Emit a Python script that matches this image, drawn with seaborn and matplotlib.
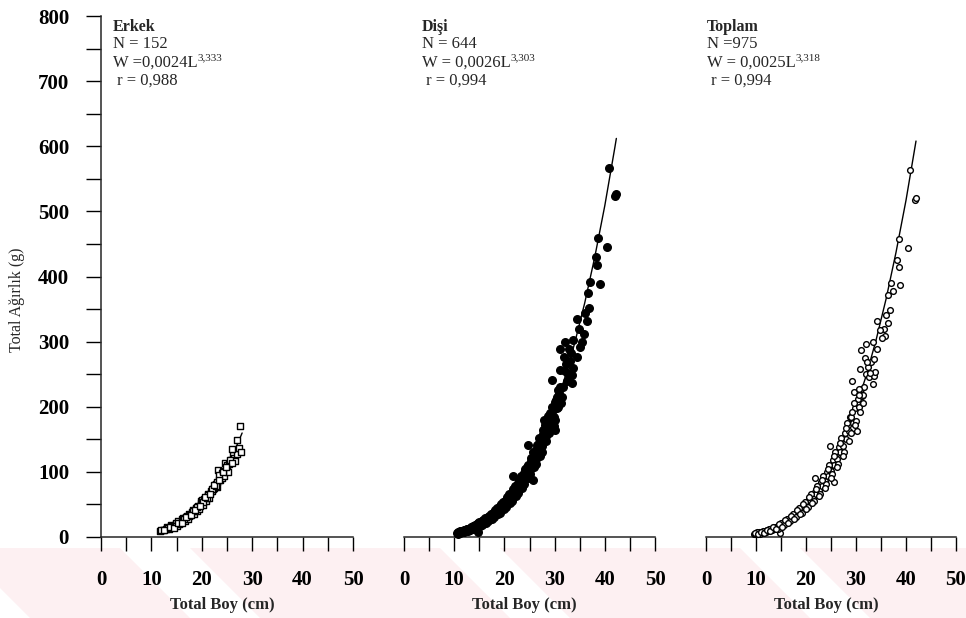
import matplotlib
matplotlib.use("Agg")
import matplotlib.pyplot as plt
from matplotlib.ticker import MultipleLocator
from matplotlib.patches import Polygon
import seaborn as sns
import pandas as pd

# ---------------- data ----------------
panel_titles = ["Erkek", "Dişi", "Toplam"]
panel_n = ["N = 152", "N = 644", "N =975"]
panel_eq = ["W =0,0024L", "W = 0,0026L", "W = 0,0025L"]
panel_exp = ["3,333", "3,303", "3,318"]
panel_r = [" r = 0,988", " r = 0,994", " r = 0,994"]

x_ticks = [0, 10, 20, 30, 40, 50]
y_ticks = [0, 100, 200, 300, 400, 500, 600, 700, 800]

# Erkek (male) observations
male_L = [11.8, 12.3, 12.8, 13.0, 13.4, 13.9, 14.2, 14.6, 14.8, 15.0, 15.3, 15.7, 16.0, 16.3,
          16.6, 16.9, 17.0, 17.2, 17.5, 17.7, 18.0, 18.3, 18.5, 18.8, 19.0, 19.3, 19.5, 19.8,
          19.9, 20.0, 20.2, 20.5, 20.8, 21.0, 21.2, 21.3, 21.5, 21.8, 22.0, 22.3, 22.4, 22.6,
          22.8, 23.0, 23.1, 23.3, 23.6, 23.8, 24.0, 24.1, 24.4, 24.6, 24.9, 25.0, 25.1, 25.4,
          25.7, 26.1, 26.4, 26.6, 27.0, 27.0, 27.3, 27.6, 27.8,
          12.0, 13.2, 14.0, 15.5, 16.5, 17.4, 18.2, 19.1, 20.3, 21.0, 22.1, 22.9, 23.5, 24.3,
          25.5, 26.0, 25.9,
          12.5, 13.6, 14.4, 15.2, 16.0, 16.8, 17.8, 18.6, 19.6, 20.6, 21.6, 22.5, 23.4, 24.2,
          24.8]
male_W = [9, 11, 12, 15, 13, 18, 15, 19, 22, 17, 24, 21, 27, 29,
          25, 31, 32, 28, 35, 34, 38, 41, 35, 44, 40, 47, 43, 52,
          55, 57, 49, 58, 55, 62, 66, 64, 60, 70, 70, 73, 76, 80,
          82, 77, 85, 103, 88, 92, 90, 98, 93, 113, 105, 110, 100, 112,
          118, 126, 121, 116, 149, 128, 136, 171, 130,
          11, 14, 17, 20, 28, 32, 40, 46, 54, 60, 74, 79, 95, 101,
          118, 114, 135,
          10, 16, 14, 21, 22, 30, 34, 42, 48, 62, 66, 80, 88, 100,
          108]

# Dişi (female) observations
female_L = [10.5, 10.8, 11.0, 11.2, 11.5, 11.7, 12.0, 12.2, 12.4, 12.6, 12.8, 13.0, 13.2, 13.4,
            13.6, 13.8, 14.0, 14.2, 14.4, 14.6, 14.8, 14.8, 15.0, 15.2, 15.4, 15.6, 15.8, 16.0,
            16.2, 16.4, 16.6, 16.8, 17.0, 17.2, 17.4, 17.6, 17.8, 18.0, 18.2, 18.4, 18.6, 18.8,
            19.0, 19.2, 19.4, 19.6, 19.8, 20.0, 20.2, 20.4, 20.6, 20.8, 21.0, 21.2, 21.4, 21.6,
            21.8, 21.8, 22.0, 22.2, 22.4, 22.6, 22.8, 23.0, 23.2, 23.4, 23.6, 23.8, 24.0, 24.2,
            24.4, 24.6, 24.8, 24.8, 25.0, 25.2, 25.4, 25.6, 25.6, 25.8, 26.0, 26.2, 26.4, 26.6,
            26.8, 27.0, 27.2, 27.4, 27.6, 27.8, 28.0, 28.2, 28.5, 28.7, 28.8, 29.0, 29.2, 29.4,
            29.6, 29.8, 30.1, 30.1, 30.3, 30.5, 30.7, 30.9, 31.0, 31.1, 31.1, 31.4, 31.7, 31.9,
            32.0, 32.1, 32.4, 32.9, 33.0, 33.4, 33.5, 33.7, 33.7, 34.4, 34.4, 35.1, 35.9, 36.1,
            36.4, 36.6, 36.9, 37.1, 38.2, 38.5, 38.6, 39.0, 40.5, 40.9, 42.0, 42.2,
            11.3, 11.9, 12.5, 13.1, 13.7, 14.3, 14.9, 15.5, 16.1, 16.7, 17.3, 17.9, 18.5, 19.1,
            19.7, 20.3, 20.9, 21.5, 22.1, 22.7, 23.3, 23.9, 24.5, 25.1, 25.7, 26.3, 26.9, 27.5,
            28.1, 28.9, 29.5, 30.0, 30.6, 31.3, 32.2, 32.7, 29.9, 27.9, 34.8, 35.5, 33.2,
            10.7, 11.1, 11.6, 12.1, 12.7, 13.3, 13.9, 14.5, 15.1, 15.7, 16.3, 16.9, 17.5, 18.1,
            18.7, 19.3, 19.9, 20.5, 21.1, 21.7, 22.3, 22.9, 23.5, 24.1, 24.7, 25.3, 25.9, 26.5,
            27.1, 27.7, 28.3, 29.1, 29.7, 30.4]
female_W = [6, 7, 8, 6, 9, 8, 10, 9, 11, 12, 10, 13, 12, 15,
            13, 16, 15, 18, 16, 19, 8, 21, 19, 22, 20, 24, 22, 26,
            24, 28, 27, 31, 29, 33, 30, 35, 33, 38, 35, 41, 38, 43,
            41, 47, 44, 49, 46, 54, 50, 57, 53, 60, 57, 65, 60, 68,
            93, 64, 73, 69, 78, 73, 83, 78, 88, 82, 94, 87, 99, 92,
            104, 98, 141, 110, 103, 116, 108, 88, 122, 115, 130, 120, 136, 126,
            145, 134, 150, 140, 158, 148, 165, 155, 172, 186, 165, 183, 172, 241,
            195, 185, 164, 208, 210, 198, 200, 221, 230, 257, 288, 215, 231, 276,
            255, 299, 240, 289, 270, 237, 249, 260, 302, 277, 334, 291, 312, 344,
            331, 375, 352, 391, 430, 417, 459, 389, 446, 567, 523, 526,
            9, 7, 13, 10, 17, 13, 23, 18, 29, 24, 36, 30, 45, 37,
            53, 46, 66, 55, 79, 67, 94, 82, 108, 97, 130, 112, 152, 130,
            172, 160, 200, 180, 225, 205, 265, 250, 170, 180, 320, 300, 282,
            5, 9, 7, 11, 9, 14, 12, 20, 17, 26, 22, 33, 28, 41,
            35, 50, 43, 61, 52, 73, 63, 88, 76, 104, 90, 122, 108, 142,
            125, 165, 148, 190, 172, 215]

# Toplam (total) observations
total_L = [9.5, 9.8, 10.0, 10.3, 10.6, 10.9, 11.2, 11.5, 11.8, 12.1, 12.4, 12.7, 13.0, 13.3,
           13.6, 13.9, 14.2, 14.5, 14.7, 14.8, 15.1, 15.4, 15.7, 16.0, 16.3, 16.6, 16.9, 17.2,
           17.5, 17.8, 18.1, 18.4, 18.7, 19.0, 19.3, 19.6, 19.9, 20.2, 20.5, 20.8, 21.1, 21.4,
           21.7, 21.8, 22.0, 22.3, 22.6, 22.9, 23.2, 23.5, 23.8, 24.1, 24.4, 24.7, 24.7, 25.0,
           25.3, 25.5, 25.6, 25.9, 26.2, 26.5, 26.8, 27.1, 27.4, 27.7, 28.0, 28.3, 28.6, 28.8,
           29.0, 29.1, 29.3, 29.5, 29.7, 30.1, 30.1, 30.3, 30.6, 30.7, 30.8, 30.9, 31.0, 31.1,
           31.4, 31.5, 31.8, 32.0, 32.0, 32.3, 32.5, 33.0, 33.3, 33.3, 33.5, 33.5, 33.8, 34.1,
           34.1, 35.5, 35.8, 35.9, 36.3, 36.3, 36.7, 36.9, 37.3, 38.1, 38.5, 38.5, 38.8, 40.3,
           40.7, 41.8, 42.0,
           10.1, 10.7, 11.3, 11.9, 12.5, 13.1, 13.7, 14.3, 14.9, 15.5, 16.1, 16.7, 17.3, 17.9,
           18.5, 19.1, 19.7, 20.3, 20.9, 21.5, 22.1, 22.7, 23.3, 23.9, 24.5, 25.1, 25.7, 26.3,
           26.9, 27.5, 28.1, 28.9, 29.5, 30.0, 30.6, 31.3, 32.2, 32.7, 34.8, 35.2,
           9.7, 10.4, 11.0, 11.6, 12.2, 12.8, 13.4, 14.0, 14.6, 15.2, 15.8, 16.4, 17.0, 17.6,
           18.2, 18.8, 19.4, 20.0, 20.6, 21.2, 21.9, 22.5, 23.1, 23.7, 24.3, 24.9, 25.5, 26.1,
           26.7, 27.3, 27.9, 28.5, 29.2, 29.8, 30.5]
total_W = [5, 4, 6, 5, 7, 6, 8, 7, 9, 10, 9, 12, 11, 14,
           13, 16, 15, 18, 6, 17, 21, 20, 24, 23, 28, 26, 31, 29,
           35, 33, 39, 37, 44, 41, 48, 45, 53, 50, 59, 55, 64, 60,
           69, 90, 66, 76, 72, 84, 79, 92, 86, 100, 94, 140, 108, 102,
           118, 85, 110, 128, 120, 138, 130, 150, 140, 160, 150, 172, 162, 184,
           185, 239, 175, 222, 198, 162, 205, 212, 200, 258, 192, 287, 228, 216,
           218, 231, 275, 250, 297, 261, 245, 268, 235, 300, 273, 247, 254, 288,
           332, 319, 309, 341, 372, 328, 349, 390, 377, 425, 458, 414, 387, 443,
           564, 517, 520,
           7, 5, 9, 8, 12, 10, 16, 13, 22, 18, 28, 24, 36, 30,
           45, 37, 53, 46, 66, 55, 79, 66, 94, 82, 110, 96, 130, 112,
           152, 130, 175, 160, 205, 178, 228, 205, 268, 252, 318, 305,
           6, 4, 8, 6, 11, 9, 15, 12, 20, 16, 26, 22, 33, 28,
           42, 35, 50, 43, 62, 52, 74, 63, 88, 76, 104, 90, 124, 108,
           145, 125, 168, 148, 192, 172, 218]

# fitted curves W = aL^b
male_fit_L = [12, 13, 14, 15, 16, 17, 18, 19, 20, 21, 22, 23, 24, 25, 26, 27, 28]
male_fit_W = [9.5, 12.4, 15.8, 20.0, 24.7, 30.3, 36.6, 43.9, 52.1, 61.3, 71.5, 83.0, 95.6,
              109.6, 124.8, 141.4, 159.7]
female_fit_L = [10.5, 11, 12, 13, 14, 15, 16, 17, 18, 19, 20, 21, 22, 23, 24, 25, 26, 27, 28,
                29, 30, 32, 34, 36, 38, 40, 42, 42.3]
female_fit_W = [6.1, 7.2, 9.5, 12.4, 15.9, 19.9, 24.7, 30.1, 36.4, 43.5, 51.6, 60.6, 70.7,
                81.9, 94.2, 107.9, 122.8, 139.0, 156.8, 176.0, 196.9, 243.6, 297.7, 359.4,
                429.8, 508.8, 598.0, 612.0]
total_fit_L = [9.5, 10, 12, 14, 16, 18, 20, 22, 24, 26, 28, 30, 32, 34, 36, 38, 40, 42]
total_fit_W = [4.4, 5.2, 9.5, 15.9, 24.7, 36.6, 51.9, 71.2, 95.1, 124.0, 158.5, 199.2,
               246.8, 302.0, 365.0, 437.0, 517.0, 608.0]

# ---------------- style ----------------
sns.set_style("ticks")
plt.rcParams["font.family"] = ["Liberation Serif", "DejaVu Serif"]
plt.rcParams["axes.linewidth"] = 1.1

W_PX, H_PX = 966, 618
fig = plt.figure(figsize=(W_PX / 100, H_PX / 100), dpi=100)
fig.patch.set_facecolor("white")


def fx(px):
    return px / W_PX


def fy(py):
    return 1 - py / H_PX


# faint pink watermark band at the bottom of the scan
bg = fig.add_axes([0, 0, 1, 1], zorder=-10)
bg.set_xlim(0, W_PX)
bg.set_ylim(H_PX, 0)
bg.axis("off")
pink = "#fdf0f2"
bands = [(-40, 120), (190, 440), (500, 740), (800, 1000)]
for x0, x1 in bands:
    poly = Polygon([(x0, 548), (x1, 548), (x1 + 70, 618), (x0 + 70, 618)],
                   closed=True, facecolor=pink, edgecolor="none")
    bg.add_patch(poly)

bottom = fy(537)
height = (537 - 16) / H_PX
lefts = [101, 404, 706]
rights = [353, 655, 956]

datasets = [
    (male_L, male_W, male_fit_L, male_fit_W, "s", "white", 16),
    (female_L, female_W, female_fit_L, female_fit_W, "o", "black", 30),
    (total_L, total_W, total_fit_L, total_fit_W, "o", "white", 17),
]

for i, (L, W, fL, fW, mk, fc, ms) in enumerate(datasets):
    ax = fig.add_axes([fx(lefts[i]), bottom, fx(rights[i] - lefts[i]), height])
    ax.set_facecolor("none")
    df = pd.DataFrame({"L": L, "W": W})
    fit = pd.DataFrame({"L": fL, "W": fW})
    sns.lineplot(data=fit, x="L", y="W", ax=ax, color="black", linewidth=1.0,
                 sort=True, estimator=None, zorder=2)
    sns.scatterplot(data=df, x="L", y="W", ax=ax, marker=mk, s=ms,
                    facecolor=fc, edgecolor="black", linewidth=1.0, zorder=3,
                    clip_on=False)
    ax.set_xlim(0, 50)
    ax.set_ylim(0, 800)
    ax.set_xlabel("")
    ax.set_ylabel("")
    ax.set_xticks(x_ticks)
    ax.xaxis.set_minor_locator(MultipleLocator(5))
    ax.set_xticklabels([str(t) for t in x_ticks], fontsize=15, fontweight="bold")
    ax.tick_params(axis="x", which="both", direction="out", length=10, width=1.0,
                   pad=14, colors="black")
    ax.spines["top"].set_visible(False)
    ax.spines["right"].set_visible(False)
    if i == 0:
        ax.set_yticks(y_ticks)
        ax.yaxis.set_minor_locator(MultipleLocator(50))
        ax.set_yticklabels([str(t) for t in y_ticks], fontsize=15, fontweight="bold")
        ax.tick_params(axis="y", which="both", direction="out", length=11, width=1.0,
                       pad=12, colors="black")
    else:
        ax.spines["left"].set_visible(False)
        ax.set_yticks([])
        ax.tick_params(axis="y", which="both", left=False, labelleft=False)

    # x-axis title under each panel
    fig.text(fx((lefts[i] + rights[i]) / 2 - 5), fy(605), "Total Boy (cm)",
             ha="center", va="center", fontsize=12, fontweight="bold")

# y-axis title
fig.text(fx(17), fy(300), "Total Ağırlık (g)", rotation=90, ha="center",
         va="center", fontsize=11.5)

# equation blocks
text_x = [113, 422, 707]
for i in range(3):
    x0 = text_x[i]
    fig.text(fx(x0), fy(27), panel_titles[i], ha="left", va="center",
             fontsize=11.5, fontweight="bold")
    fig.text(fx(x0), fy(44), panel_n[i], ha="left", va="center", fontsize=12)
    t = fig.text(fx(x0), fy(63), panel_eq[i], ha="left", va="center", fontsize=12)
    bg.annotate(panel_exp[i], xy=(1.0, 0.82), xycoords=t, ha="left", va="center",
                fontsize=8)
    fig.text(fx(x0), fy(81), panel_r[i], ha="left", va="center", fontsize=12)

fig.savefig("out.png", dpi=100, facecolor="white")
